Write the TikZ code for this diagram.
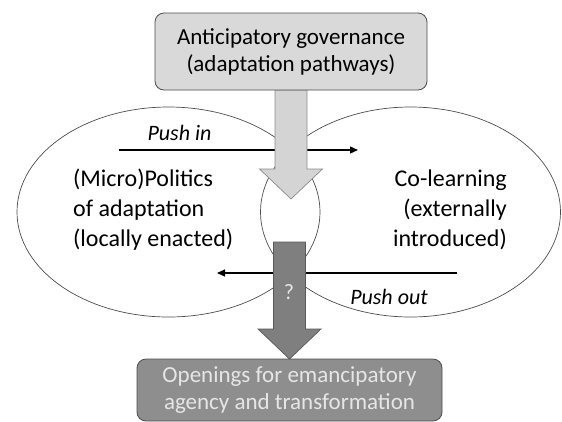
\documentclass[tikz,border=0pt]{standalone}
\usepackage{fontspec}
\setmainfont{Carlito}
\usetikzlibrary{arrows.meta, backgrounds, positioning, calc, shapes.geometric}
\definecolor{boxlight}{HTML}{D9D9D9}
\definecolor{arrowlight}{HTML}{D4D4D4}
\definecolor{arrowdark}{HTML}{7F7F7F}
\definecolor{boxdark}{HTML}{8E8E8E}
\definecolor{textpale}{HTML}{E6E6E6}
% block arrow: style, start of shaft, tip
\newcommand{\blockarrow}[3]{%
  \draw[#1] ($(#2)+(-16,0)$) -- ($(#3)+(-16,-30)$) -- ($(#3)+(-31.5,-30)$)
    -- (#3) -- ($(#3)+(31.5,-30)$) -- ($(#3)+(16,-30)$) -- ($(#2)+(16,0)$) -- cycle;
}

\begin{document}
\begin{tikzpicture}[x=1pt, y=-1pt,
    govbox/.style={draw=black!70, line width=0.8pt, rounded corners=9pt, align=center,
        inner sep=0pt, outer sep=0pt, font=\fontsize{23}{27}\selectfont},
    blob/.style={draw=black!70, line width=0.7pt, ellipse, inner sep=0pt, minimum height=210pt},
    lobetext/.style={font=\fontsize{24}{30}\selectfont, inner sep=0pt},
    push/.style={line width=1.3pt, -{Triangle[length=8pt, width=7pt]}},
    pushtext/.style={font=\fontsize{22}{26}\selectfont\itshape, inner sep=0pt}]
    \useasboundingbox (0,0) rectangle (562,421);

    % Top and bottom boxes
    \node[govbox, fill=boxlight, minimum width=272pt, minimum height=77pt] (govern) at (291,51.5)
        {Anticipatory governance\\(adaptation pathways)};
    \node[govbox, fill=boxdark, text=textpale, minimum width=305pt, minimum height=62pt] (openings) at (289.5,390)
        {Openings for emancipatory\\agency and transformation};

    \begin{scope}[on background layer]
        % The two overlapping ellipses
        \node[blob, minimum width=303pt] (politics) at (168.5,212) {};
        \node[blob, minimum width=300pt] (colearn) at (410.5,212) {};

        % Push in / push out
        \coordinate (instart) at (119,150);
        \coordinate (inend) at (358,150);
        \draw[push] (instart) -- (inend);
        \coordinate (outstart) at (457,273);
        \coordinate (outend) at (217,273);
        \draw[push] (outstart) -- (outend);

        % Block arrows
        \coordinate (govtip) at ($(govern.south)+(0,109)$);
        \blockarrow{fill=arrowlight, draw=black!45, line width=0.7pt}{govern.south}{govtip}
        \coordinate (querytop) at ($(openings.north)+(0,-117)$);
        \blockarrow{fill=arrowdark, draw=black!65, line width=0.7pt}{querytop}{openings.north}
    \end{scope}

    \node[lobetext, anchor=west, align=left] (politicstext) at (73,210)
        {(Micro)Politics\\of adaptation\\(locally enacted)};
    \node[lobetext, anchor=east, align=right] (colearntext) at (507,210)
        {Co-learning\\(externally\\introduced)};
    \node[pushtext] (pushin) at (179.5,133) {Push in};
    \node[pushtext] (pushout) at (389,297) {Push out};
    \node[font=\fontsize{22}{26}\selectfont, text=textpale] (query) at (289,292) {?};
\end{tikzpicture}
\end{document}
